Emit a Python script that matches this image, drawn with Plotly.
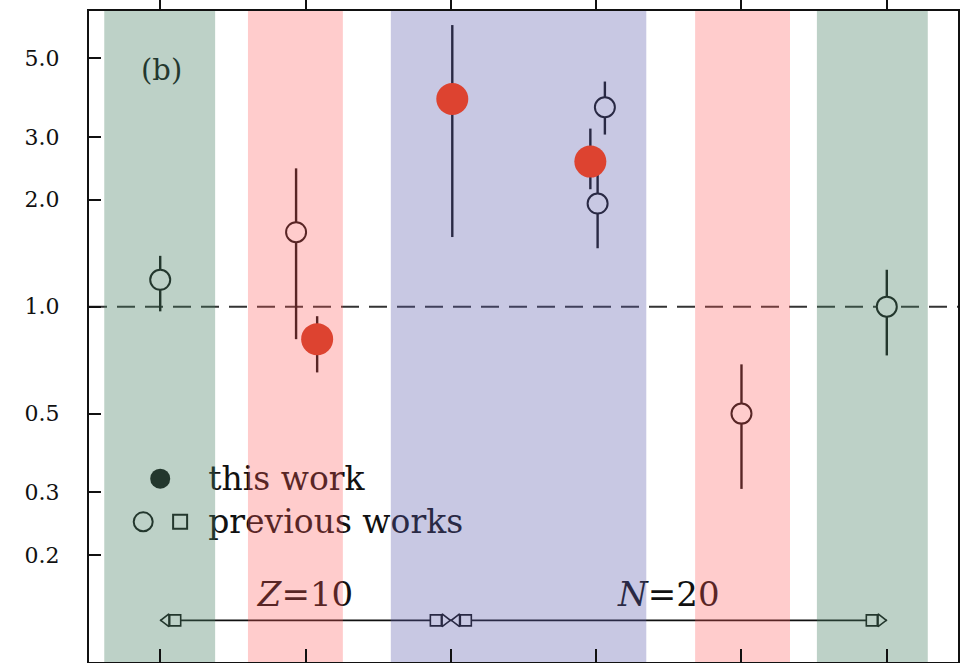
import plotly.graph_objects as go

# ---- data -------------------------------------------------------------
# ratios from previous works (open circles), x = category index
prev_x = [0.0, 0.935, 3.06, 3.01, 4.0, 5.0]
prev_val = [1.19, 1.62, 3.64, 1.95, 0.50, 1.00]
prev_hi = [1.39, 2.45, 4.30, 2.45, 0.688, 1.27]
prev_lo = [0.97, 0.81, 3.05, 1.46, 0.307, 0.729]

# ratios from this work (filled circles)
this_x = [1.08, 2.01, 2.96]
this_val = [0.81, 3.84, 2.56]
this_hi = [0.94, 6.20, 3.17]
this_lo = [0.653, 1.57, 2.14]

# shaded ranges along the category axis
band_lo = [-0.385, 0.604, 1.587, 3.681, 4.519]
band_hi = [0.378, 1.257, 3.345, 4.334, 5.282]
band_kind = ["green", "red", "blue", "red", "green"]

# shell-closure spans (category index)
spans = [(0, 2, "<i>Z</i>=10", 1.0), (2, 5, "<i>N</i>=20", 3.5)]

y_tickvals = [0.2, 0.3, 0.5, 1.0, 2.0, 3.0, 5.0]
y_ticktext = ["0.2", "0.3", "0.5", "1.0", "2.0", "3.0", "5.0"]
x_tickvals = [0, 1, 2, 3, 4, 5]

# ---- layout constants -------------------------------------------------
W, H = 961, 663
ML, MR, MT, MB = 89, 2, 9, 1
XR = [-0.49, 5.49]
YR = [-1.0, 0.832]  # log10 range
px_per_unit = (W - ML - MR) / (XR[1] - XR[0])
INK = "#111111"
SERIF = "DejaVu Serif"
band_fill = {
    "green": "rgba(70,127,99,0.355)",
    "red": "rgba(255,85,85,0.30)",
    "blue": "rgba(90,90,171,0.333)",
}

fig = go.Figure()

# reference line at ratio 1
fig.add_trace(go.Scatter(x=[XR[0], XR[1]], y=[1, 1], mode="lines",
                         line=dict(color="#333333", width=2, dash="18px,10px")))

# span arrows with nib-shaped heads
arrow_y = 0.131
for a, b, label, cx in spans:
    fig.add_trace(go.Scatter(x=[a, b], y=[arrow_y, arrow_y], mode="lines",
                             line=dict(color=INK, width=1.6)))
    d_tri = 6 / px_per_unit
    d_box = 15 / px_per_unit
    fig.add_trace(go.Scatter(x=[a + d_box, b - d_box], y=[arrow_y, arrow_y], mode="markers",
                             marker=dict(symbol="square", size=11, color="white",
                                         line=dict(color=INK, width=1.6))))
    fig.add_trace(go.Scatter(x=[a + d_tri, b - d_tri], y=[arrow_y, arrow_y], mode="markers",
                             marker=dict(symbol=["triangle-left", "triangle-right"],
                                         size=11, color="white", line=dict(color=INK, width=1.6))))
    fig.add_trace(go.Scatter(x=[cx], y=[0.152], mode="text", text=[label],
                             textfont=dict(family=SERIF, size=34, color=INK)))

# previous works
fig.add_trace(go.Scatter(
    x=prev_x, y=prev_val, mode="markers",
    marker=dict(symbol="circle", size=20, color="white", line=dict(color=INK, width=2)),
    error_y=dict(type="data", symmetric=False,
                 array=[h - v for h, v in zip(prev_hi, prev_val)],
                 arrayminus=[v - l for v, l in zip(prev_val, prev_lo)],
                 color=INK, thickness=2.4, width=0)))

# this work: error bars
fig.add_trace(go.Scatter(
    x=this_x, y=this_val, mode="markers",
    marker=dict(size=1, color="rgba(0,0,0,0)"),
    error_y=dict(type="data", symmetric=False,
                 array=[h - v for h, v in zip(this_hi, this_val)],
                 arrayminus=[v - l for v, l in zip(this_val, this_lo)],
                 color=INK, thickness=2.4, width=0)))

# key
fig.add_trace(go.Scatter(x=[0.0], y=[0.328], mode="markers",
                         marker=dict(symbol="circle", size=20, color=INK)))
fig.add_trace(go.Scatter(x=[-0.117], y=[0.248], mode="markers",
                         marker=dict(symbol="circle", size=19, color="white",
                                     line=dict(color=INK, width=2))))
fig.add_trace(go.Scatter(x=[0.137], y=[0.248], mode="markers",
                         marker=dict(symbol="square", size=14, color="white",
                                     line=dict(color=INK, width=2))))
fig.add_trace(go.Scatter(x=[0.33, 0.33], y=[0.322, 0.244], mode="text",
                         text=["this work", "previous works"], textposition="middle right",
                         textfont=dict(family=SERIF, size=33, color=INK)))
fig.add_trace(go.Scatter(x=[0.01], y=[4.55], mode="text", text=["(b)"],
                         textfont=dict(family=SERIF, size=29, color=INK)))

# shaded ranges laid over the dark ink
for lo, hi, kind in zip(band_lo, band_hi, band_kind):
    fig.add_trace(go.Scatter(x=[lo, hi, hi, lo], y=[0.05, 0.05, 20, 20],
                             mode="none", fill="toself", fillcolor=band_fill[kind]))

# this work: markers
fig.add_trace(go.Scatter(x=this_x, y=this_val, mode="markers",
                         marker=dict(symbol="circle", size=32, color="#DD4330")))

# helper trace for the top axis
fig.add_trace(go.Scatter(x=[0], y=[1], xaxis="x2", mode="markers",
                         marker=dict(size=1, color="rgba(0,0,0,0)")))

fig.update_traces(showlegend=False, hoverinfo="skip")

axis_line = dict(showline=True, linecolor=INK, linewidth=2, showgrid=False, zeroline=False)
fig.update_layout(
    width=W, height=H,
    margin=dict(l=ML, r=MR, t=MT, b=MB),
    paper_bgcolor="white", plot_bgcolor="white",
    xaxis=dict(range=XR, tickvals=x_tickvals, ticks="inside", ticklen=13, tickwidth=2,
               tickcolor=INK, showticklabels=False, mirror=True, **axis_line),
    xaxis2=dict(range=XR, overlaying="x", side="top", tickvals=x_tickvals, ticks="outside",
                ticklen=10, tickwidth=2, tickcolor=INK, showticklabels=False,
                showline=False, showgrid=False, zeroline=False),
    yaxis=dict(type="log", range=YR, tickvals=y_tickvals, ticktext=y_ticktext,
               ticks="inside", ticklen=12, tickwidth=2, tickcolor=INK,
               tickfont=dict(family=SERIF, size=22, color=INK),
               ticklabelstandoff=23, mirror=True, **axis_line),
)

fig.write_html("out.html")
